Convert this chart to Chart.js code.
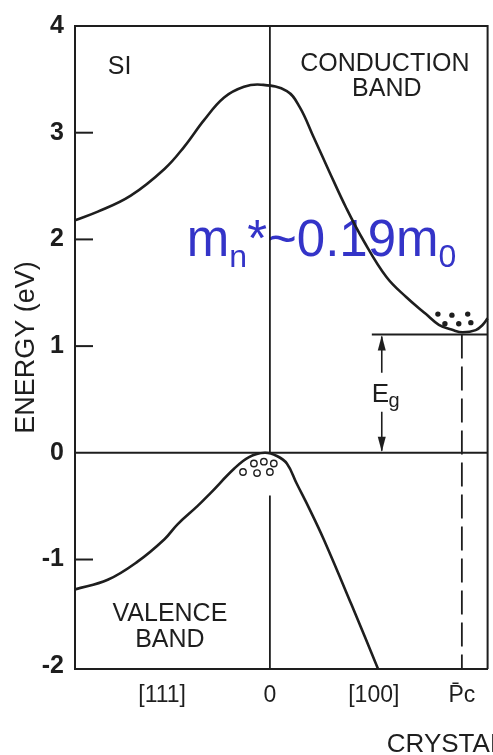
<!DOCTYPE html>
<html><head><meta charset="utf-8">
<script src="https://cdn.jsdelivr.net/npm/chart.js@4.4.1/dist/chart.umd.min.js"></script>
<style>html,body{margin:0;padding:0;background:#fff;}#wrap{width:493px;height:755px;}</style>
</head><body><div id="wrap"><canvas id="c" width="493" height="755"></canvas></div>
<script>
// ---- data ----
const condK = [-1.0, -0.883, -0.714, -0.541, -0.439, -0.337, -0.235, -0.133, -0.045, 0.087, 0.153, 0.224, 0.306, 0.393, 0.480, 0.597, 0.699, 0.801, 0.867, 0.939, 0.990, 1.056, 1.092, 1.117];
const condE = [2.18, 2.26, 2.41, 2.66, 2.87, 3.12, 3.33, 3.43, 3.45, 3.39, 3.24, 2.96, 2.63, 2.29, 1.99, 1.65, 1.46, 1.30, 1.20, 1.15, 1.13, 1.15, 1.20, 1.26];
const valK = [-1.0, -0.832, -0.679, -0.541, -0.474, -0.372, -0.306, -0.184, -0.107, -0.026, 0.036, 0.087, 0.138, 0.204, 0.276, 0.418, 0.556];
const valE = [-1.28, -1.19, -1.02, -0.81, -0.67, -0.50, -0.38, -0.15, -0.04, 0.0, -0.03, -0.10, -0.29, -0.53, -0.81, -1.42, -2.03];
const holeK = [-0.138, -0.066, 0.0, -0.082, -0.031, 0.020];
const holeE = [-0.18, -0.19, -0.18, -0.10, -0.083, -0.10];
const elecK = [0.862, 0.934, 1.015, 0.898, 0.969, 1.031];
const elecE = [1.30, 1.29, 1.30, 1.21, 1.21, 1.22];
const E0 = 0.0;      // valence band top
const Ec = 1.11;     // conduction band bottom
const pc = 0.985;    // momentum of conduction minimum
const xTickValues = [-0.553, 0, 0.533, 0.985];
const xTickLabels = ['[111]', '0', '[100]', 'P\u0304c'];
const yTickValues = [4, 3, 2, 1, 0, -1, -2];
const yTickLabels = ['4', '3', '2', '1', '0', '-1', '-2'];

const xMin = -1.0, xMax = 1.117, yMin = -2.026, yMax = 4;
const INK = '#1e1e1e';
const FAM = "'Liberation Sans', Arial, sans-serif";
Chart.defaults.font.family = FAM;

function pts(xs, ys) { return xs.map((x, i) => ({ x: x, y: ys[i] })); }

const blueText = {
  id: 'blueText',
  beforeDatasetsDraw(chart) {
    const c = chart.ctx, X = chart.scales.x, Y = chart.scales.y;
    c.save();
    c.fillStyle = '#3434c8';
    c.textBaseline = 'alphabetic';
    c.textAlign = 'left';
    let x = X.getPixelForValue(-0.426);
    const yb = Y.getPixelForValue(1.847), ys = Y.getPixelForValue(1.737);
    const big = '51px ' + FAM, small = '32px ' + FAM;
    const parts = [['m', big, yb], ['n', small, ys], ['*~0.19m', big, yb], ['0', small, ys]];
    parts.forEach(p => { c.font = p[1]; c.fillText(p[0], x, p[2]); x += c.measureText(p[0]).width; });
    c.restore();
  }
};

const annot = {
  id: 'annot',
  afterDraw(chart) {
    const c = chart.ctx, X = chart.scales.x, Y = chart.scales.y, a = chart.chartArea;
    const px = v => X.getPixelForValue(v), py = v => Y.getPixelForValue(v);
    c.save();
    c.strokeStyle = INK; c.fillStyle = INK; c.lineWidth = 2;
    // frame top + right
    c.beginPath();
    c.moveTo(a.left - 1, a.top); c.lineTo(a.right, a.top); c.lineTo(a.right, a.bottom);
    c.stroke();
    // inner tick marks
    [3, 2, 1, -1].forEach(v => {
      c.beginPath(); c.moveTo(a.left, py(v)); c.lineTo(a.left + 18, py(v)); c.stroke();
    });
    // Eg arrow
    const ax = px(0.574), yt = py(Ec), yb = py(E0);
    c.lineWidth = 1.6;
    c.beginPath();
    c.moveTo(ax, yt + 2); c.lineTo(ax, py(0.75));
    c.moveTo(ax, py(0.385)); c.lineTo(ax, yb - 2);
    c.stroke();
    c.beginPath(); c.moveTo(ax, yt + 1); c.lineTo(ax - 4, yt + 16); c.lineTo(ax + 4, yt + 16); c.closePath(); c.fill();
    c.beginPath(); c.moveTo(ax, yb - 1); c.lineTo(ax - 4, yb - 16); c.lineTo(ax + 4, yb - 16); c.closePath(); c.fill();
    // texts
    c.textBaseline = 'alphabetic';
    c.textAlign = 'left';
    c.font = '26px ' + FAM;
    c.fillText('E', px(0.523), py(0.477));
    c.font = '20px ' + FAM;
    c.fillText('g', px(0.609), py(0.431));
    c.font = '25px ' + FAM;
    c.fillText('SI', px(-0.832), py(3.55));
    c.textAlign = 'center';
    c.fillText('CONDUCTION', px(0.59), py(3.577));
    c.fillText('BAND', px(0.60), py(3.347));
    c.fillText('VALENCE', px(-0.513), py(-1.575));
    c.fillText('BAND', px(-0.513), py(-1.824));
    c.textAlign = 'left';
    c.font = '26px ' + FAM;
    c.fillText('CRYSTAL MOMENTUM', px(0.600), a.bottom + 83);
    c.restore();
  }
};

const lineDs = (data, extra) => Object.assign({ data: data, showLine: true, borderColor: INK, borderWidth: 2, pointRadius: 0, fill: false, tension: 0, clip: false }, extra || {});

new Chart(document.getElementById('c'), {
  type: 'scatter',
  data: {
    datasets: [
      lineDs(pts(condK, condE), { label: 'Conduction band', borderWidth: 2.6, tension: 0.4 }),
      lineDs(pts(valK, valE), { label: 'Valence band', borderWidth: 2.6, tension: 0.4, clip: { left: 0, right: 0, top: 0, bottom: 0 } }),
      lineDs([{ x: xMin, y: E0 }, { x: xMax, y: E0 }], { label: 'Ev' }),
      lineDs([{ x: 0.523, y: Ec }, { x: xMax, y: Ec }], { label: 'Ec' }),
      lineDs([{ x: 0, y: E0 }, { x: 0, y: yMax }], { label: 'k=0 upper', borderWidth: 1.8 }),
      lineDs([{ x: 0, y: -0.40 }, { x: 0, y: yMin }], { label: 'k=0 lower', borderWidth: 1.8 }),
      lineDs([{ x: pc, y: Ec }, { x: pc, y: yMin }], { label: 'pc', borderWidth: 1.8, borderDash: [24, 8] }),
      { label: 'holes', data: pts(holeK, holeE), showLine: false, pointRadius: 3.2, pointBackgroundColor: '#ffffff', pointBorderColor: INK, pointBorderWidth: 1.4, clip: false },
      { label: 'electrons', data: pts(elecK, elecE), showLine: false, pointRadius: 2.7, pointBackgroundColor: INK, pointBorderColor: INK, pointBorderWidth: 0, clip: false }
    ]
  },
  options: {
    responsive: false, animation: false, devicePixelRatio: 1,
    layout: { padding: { left: 0, right: 1, top: 14, bottom: 0 } },
    plugins: { legend: { display: false }, tooltip: { enabled: false } },
    scales: {
      x: {
        type: 'linear', min: xMin, max: xMax,
        grid: { display: false, drawTicks: false, tickLength: 0 },
        border: { display: true, color: INK, width: 2 },
        afterBuildTicks: s => { s.ticks = xTickValues.map(v => ({ value: v })); },
        afterFit: s => { s.height = 86; },
        ticks: {
          autoSkip: false, maxRotation: 0, padding: 13, color: INK,
          font: { size: 23, family: FAM },
          callback: (v) => { const i = xTickValues.indexOf(v); return i >= 0 ? xTickLabels[i] : ''; }
        }
      },
      y: {
        type: 'linear', min: yMin, max: yMax,
        grid: { display: false, drawTicks: false, tickLength: 0 },
        border: { display: true, color: INK, width: 2 },
        afterBuildTicks: s => { s.ticks = yTickValues.map(v => ({ value: v })); },
        afterFit: s => { s.width = 75; },
        ticks: {
          padding: 11, color: INK,
          font: { size: 25, weight: 'bold', family: FAM },
          callback: (v) => { const i = yTickValues.indexOf(v); return i >= 0 ? yTickLabels[i] : ''; }
        },
        title: { display: true, text: 'ENERGY (eV)', color: INK, font: { size: 27, family: FAM, lineHeight: 1 }, padding: { top: 13, bottom: 0 } }
      }
    }
  },
  plugins: [blueText, annot]
});
</script>
</body></html>
